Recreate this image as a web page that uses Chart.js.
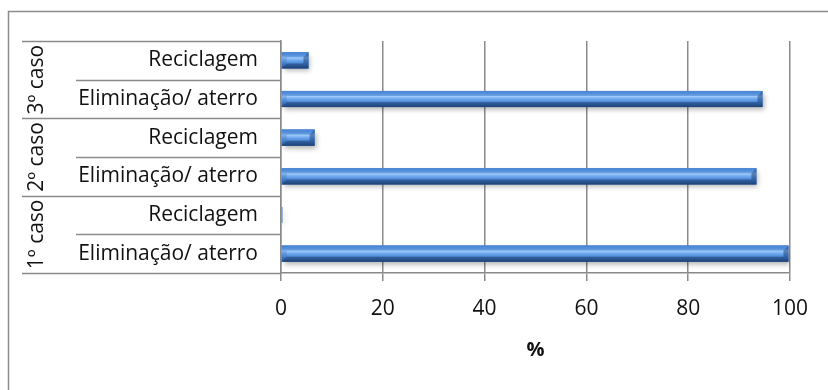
<!DOCTYPE html>
<html>
<head>
<meta charset="utf-8">
<script src="https://cdn.jsdelivr.net/npm/chart.js@4/dist/chart.umd.min.js"></script>
<style>
  html, body { margin: 0; padding: 0; background: #ffffff; }
  #wrap { width: 828px; height: 390px; position: relative; }
</style>
</head>
<body>
<div id="wrap"><canvas id="chart" width="828" height="390"></canvas></div>
<script>
// Destination of the waste, per case (%)
const cases = ['1º caso', '2º caso', '3º caso'];
const destinations = ['Eliminação/ aterro', 'Reciclagem'];
const aterro = [99.7, 93.4, 94.6];      // Eliminação/ aterro, cases 1..3
const reciclagem = [0.3, 6.6, 5.4];     // Reciclagem, cases 1..3
const xTicks = [0, 20, 40, 60, 80, 100];
const axisTitle = '%';

// Flatten into one row per (case, destination), bottom to top
const rowLabels = [];
const rowValues = [];
cases.forEach((c, i) => {
  rowLabels.push(destinations[0]); rowValues.push(aterro[i]);
  rowLabels.push(destinations[1]); rowValues.push(reciclagem[i]);
});

const FONT = '"Open Sans", "Noto Sans", sans-serif';
const GRID = '#8a8a8a';
const TEXT = '#111111';

// White page with the outer frame of the chart
const framePlugin = {
  id: 'frame',
  beforeDraw(chart) {
    const ctx = chart.ctx;
    ctx.save();
    ctx.fillStyle = '#ffffff';
    ctx.fillRect(0, 0, chart.width, chart.height);
    ctx.strokeStyle = '#8c8c8c';
    ctx.lineWidth = 1.5;
    ctx.strokeRect(8.5, 11.5, chart.width + 20, chart.height + 20);
    ctx.restore();
  }
};

// Row separators and rotated case labels on the category side
const groupAxisPlugin = {
  id: 'groupAxis',
  afterDraw(chart) {
    const ctx = chart.ctx;
    const y = chart.scales.y;
    const area = chart.chartArea;
    const n = rowLabels.length;
    const edge = (k) => {
      if (k === 0) return area.bottom;
      if (k === n) return area.top;
      return (y.getPixelForValue(k - 1) + y.getPixelForValue(k)) / 2;
    };
    ctx.save();
    ctx.strokeStyle = GRID;
    ctx.lineWidth = 1.5;
    for (let k = 0; k <= n; k++) {
      const yy = Math.round(edge(k)) + 0.5;
      const x0 = (k % destinations.length === 0) ? 22 : 76;
      ctx.beginPath();
      ctx.moveTo(x0, yy);
      ctx.lineTo(area.left, yy);
      ctx.stroke();
    }
    ctx.fillStyle = TEXT;
    ctx.font = '21px ' + FONT;
    ctx.textAlign = 'center';
    ctx.textBaseline = 'middle';
    cases.forEach((c, i) => {
      const yc = (edge(i * 2) + edge(i * 2 + 2)) / 2;
      ctx.save();
      ctx.translate(37, yc);
      ctx.rotate(-Math.PI / 2);
      ctx.fillText(c, 0, 0);
      ctx.restore();
    });
    ctx.restore();
  }
};

// Bevelled, shadowed look of the bars
const bevelPlugin = {
  id: 'bevel',
  beforeDatasetsDraw(chart) {
    const ctx = chart.ctx;
    ctx.save();
    ctx.shadowColor = 'rgba(0,0,0,0.3)';
    ctx.shadowBlur = 5;
    ctx.shadowOffsetX = 2;
    ctx.shadowOffsetY = 3;
  },
  afterDatasetsDraw(chart) {
    const ctx = chart.ctx;
    ctx.restore();
    ctx.save();
    const meta = chart.getDatasetMeta(0);
    meta.data.forEach((bar) => {
      const p = bar.getProps(['x', 'y', 'base', 'height'], true);
      const l = Math.min(p.base, p.x), r = Math.max(p.base, p.x);
      const t = p.y - p.height / 2, b = p.y + p.height / 2;
      const w = r - l;
      if (w < 1) return;
      const g = ctx.createLinearGradient(0, t, 0, b);
      g.addColorStop(0.00, '#4a86d4');
      g.addColorStop(0.18, '#5f9be4');
      g.addColorStop(0.34, '#9fcbf8');
      g.addColorStop(0.50, '#6ea8ee');
      g.addColorStop(0.72, '#4682d0');
      g.addColorStop(0.86, '#3467ad');
      g.addColorStop(1.00, '#244a80');
      ctx.fillStyle = g;
      ctx.fillRect(l, t, w, b - t);
      const bv = Math.min(5, w / 2, (b - t) / 2);
      // left bevel
      ctx.fillStyle = 'rgba(50,100,170,0.25)';
      ctx.beginPath();
      ctx.moveTo(l, t); ctx.lineTo(l + bv, t + bv); ctx.lineTo(l + bv, b - bv); ctx.lineTo(l, b);
      ctx.closePath(); ctx.fill();
      // right bevel
      ctx.fillStyle = 'rgba(25,60,115,0.5)';
      ctx.beginPath();
      ctx.moveTo(r, t); ctx.lineTo(r - bv, t + bv); ctx.lineTo(r - bv, b - bv); ctx.lineTo(r, b);
      ctx.closePath(); ctx.fill();
      // top bevel
      ctx.fillStyle = 'rgba(70,130,210,0.45)';
      ctx.beginPath();
      ctx.moveTo(l, t); ctx.lineTo(r, t); ctx.lineTo(r - bv, t + bv); ctx.lineTo(l + bv, t + bv);
      ctx.closePath(); ctx.fill();
      // bottom bevel
      ctx.fillStyle = 'rgba(25,55,100,0.45)';
      ctx.beginPath();
      ctx.moveTo(l, b); ctx.lineTo(r, b); ctx.lineTo(r - bv, b - bv); ctx.lineTo(l + bv, b - bv);
      ctx.closePath(); ctx.fill();
    });
    ctx.restore();
  }
};

new Chart(document.getElementById('chart'), {
  type: 'bar',
  data: {
    labels: rowLabels,
    datasets: [{
      data: rowValues,
      backgroundColor: '#3f7bc9',
      borderWidth: 0,
      barPercentage: 0.42,
      categoryPercentage: 1.0
    }]
  },
  options: {
    indexAxis: 'y',
    responsive: false,
    devicePixelRatio: 1,
    animation: false,
    layout: { padding: { top: 41, right: 38, bottom: 0, left: 0 } },
    plugins: { legend: { display: false }, tooltip: { enabled: false } },
    scales: {
      x: {
        min: 0,
        max: 100,
        afterBuildTicks(scale) { scale.ticks = xTicks.map(v => ({ value: v })); },
        afterFit(scale) { scale.height = 117; },
        grid: { color: GRID, lineWidth: 1.5, tickLength: 8, drawTicks: true },
        border: { color: GRID, width: 1.5 },
        ticks: { color: TEXT, font: { family: FONT, size: 21 }, padding: 15, maxRotation: 0 },
        title: {
          display: true,
          text: axisTitle,
          color: TEXT,
          font: { family: FONT, size: 20, weight: 'bold' },
          padding: { top: 0, bottom: 28 }
        }
      },
      y: {
        reverse: true,
        afterFit(scale) { scale.width = 281; },
        grid: { display: false, drawTicks: false },
        border: { display: true, color: GRID, width: 1.5 },
        ticks: { color: TEXT, font: { family: FONT, size: 21 }, padding: 23, crossAlign: 'near' }
      }
    }
  },
  plugins: [framePlugin, groupAxisPlugin, bevelPlugin]
});
</script>
</body>
</html>
